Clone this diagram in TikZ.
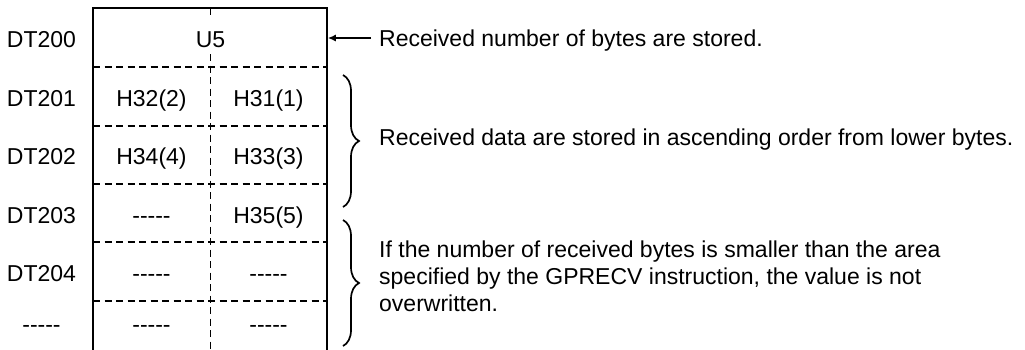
\documentclass[tikz,border=0pt]{standalone}
\usepackage{fontspec}
\setmainfont{Liberation Sans}
\usetikzlibrary{arrows.meta,decorations.pathreplacing}
\newcommand{\hy}{-\kern0pt-\kern0pt-\kern0pt-\kern0pt-}
\begin{document}
\begin{tikzpicture}[x=1pt,y=-1pt,
  every node/.style={font=\fontsize{23}{24.5}\selectfont, inner sep=0pt},
  lbl/.style={anchor=base},
  boxline/.style={line width=1.7pt},
  dashline/.style={line width=1.6pt, dash pattern=on 7pt off 4.5pt},
  bracestyle/.style={line width=1.7pt, decorate, decoration={brace, amplitude=16pt}},
  note/.style={anchor=base west, align=left}]
\useasboundingbox (0,0) rectangle (1025,349);
% box outline
\coordinate (tl) at (93,8);
\coordinate (tr) at (327,8);
\coordinate (bl) at (93,352);
\coordinate (br) at (327,352);
\coordinate (mt) at (210.5,8);
\coordinate (mb) at (210.5,352);
% horizontal dashed lines
\foreach \y in {67,126,184,242,301}{
  \draw[dashline] (93,\y) -- (327,\y);
}
\draw[dashline] (mt) -- (mb);
\draw[boxline] (bl) -- (tl) -- (tr) -- (br);
% left labels
\node[lbl] (l0) at (41.5,47.5) {DT200};
\node[lbl] (l1) at (41.5,106) {DT201};
\node[lbl] (l2) at (41.5,164.5) {DT202};
\node[lbl] (l3) at (41.5,223) {DT203};
\node[lbl] (l4) at (41.5,281) {DT204};
\node[lbl] (l5) at (41.5,332) {\hy};
% cells
\node[lbl, fill=white, inner xsep=2pt, text height=31pt, text depth=6pt] (u5) at (210.5,47.5) {U5};
\node[lbl] (c1a) at (151.5,106) {H32(2)};
\node[lbl] (c1b) at (268.5,106) {H31(1)};
\node[lbl] (c2a) at (151.5,164.5) {H34(4)};
\node[lbl] (c2b) at (268.5,164.5) {H33(3)};
\node[lbl] (c3a) at (151.5,223) {\hy};
\node[lbl] (c3b) at (268.5,223) {H35(5)};
\node[lbl] (c4a) at (151.5,281) {\hy};
\node[lbl] (c4b) at (268.5,281) {\hy};
\node[lbl] (c5a) at (151.5,332) {\hy};
\node[lbl] (c5b) at (268.5,332) {\hy};
% notes
\node[note] (n1) at (379,46) {Received number of bytes are stored.};
\coordinate (boxR) at (327.8,38);
\draw[line width=1.5pt, -{Latex[length=8pt,width=7pt]}] (n1.west |- boxR) ++(-8,0) coordinate (arrS) -- (boxR);
\node[note] (n2) at (379,145) {Received data are stored in ascending order from lower bytes.};
\node[note] (n3) at (379,311) {If the number of received bytes is smaller than the area\\[2.5pt]specified by the GPRECV instruction, the value is not\\[2.5pt]overwritten.};
% braces
\coordinate (b1t) at (343,75);
\coordinate (b1b) at (343,207);
\coordinate (b2t) at (343,220);
\coordinate (b2b) at (343,346);
\draw[bracestyle] (b1t) -- (b1b);
\draw[bracestyle] (b2t) -- (b2b);
\end{tikzpicture}
\end{document}
